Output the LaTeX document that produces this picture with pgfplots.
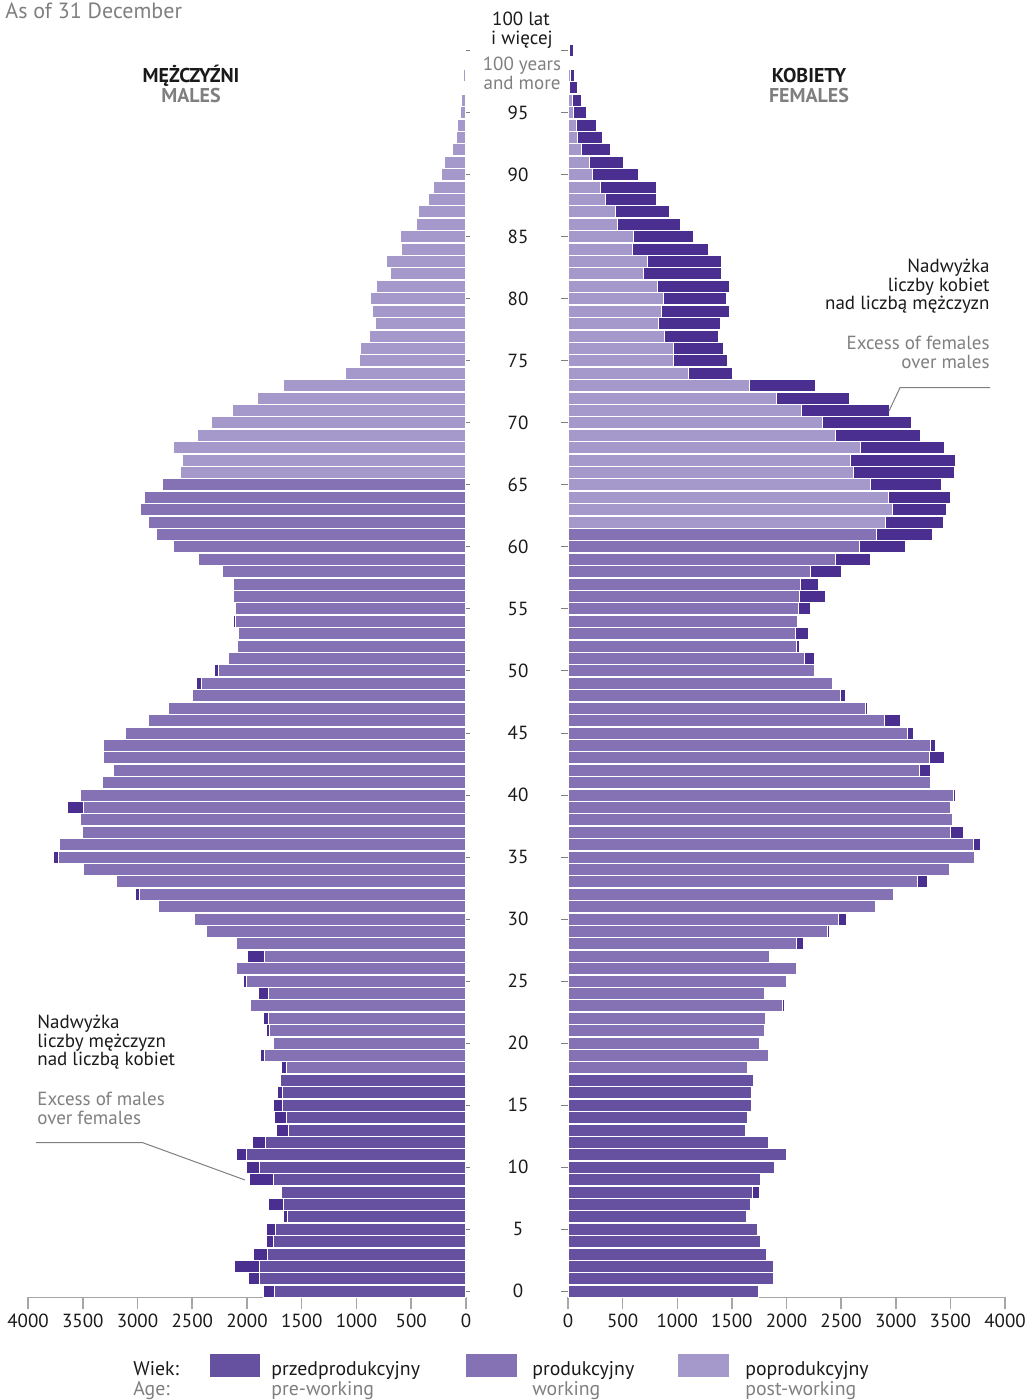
\documentclass[border=0pt]{standalone}
\usepackage{pgfplots}
\pgfplotsset{compat=1.18}
\usepackage{pgfplotstable}
\usepackage{fontspec}
\setmainfont{PT Sans}
\definecolor{cpre}{HTML}{6650A0}
\definecolor{cwork}{HTML}{8472B4}
\definecolor{cpost}{HTML}{A598CA}
\definecolor{cexc}{HTML}{4A2F91}
\definecolor{tgray}{HTML}{7F7F7F}
\definecolor{agray}{HTML}{A6A6A6}
\definecolor{tblack}{HTML}{1A1A1A}

% age, males (M), females (F)
\pgfplotstableread{
age M F
0 1846 1747
1 1989 1884
2 2113 1884
3 1937 1814
4 1825 1759
5 1822 1738
6 1670 1631
7 1806 1668
8 1685 1750
9 1980 1759
10 2004 1890
11 2098 2003
12 1952 1835
13 1733 1625
14 1752 1643
15 1761 1677
16 1724 1677
17 1703 1698
18 1688 1640
19 1876 1836
20 1755 1760
21 1818 1799
22 1852 1805
23 1964 1985
24 1892 1802
25 2028 2003
26 2095 2095
27 1992 1842
28 2095 2159
29 2372 2393
30 2475 2546
31 2813 2811
32 3014 2979
33 3196 3290
34 3494 3497
35 3768 3717
36 3713 3772
37 3503 3622
38 3521 3522
39 3640 3497
40 3525 3549
41 3333 3320
42 3220 3314
43 3306 3442
44 3315 3363
45 3111 3165
46 2895 3046
47 2719 2741
48 2497 2537
49 2463 2418
50 2293 2256
51 2165 2256
52 2089 2122
53 2080 2204
54 2126 2104
55 2107 2223
56 2120 2360
57 2126 2290
58 2223 2500
59 2445 2765
60 2667 3086
61 2822 3336
62 2904 3433
63 2974 3467
64 2935 3497
65 2773 3415
66 2609 3534
67 2585 3546
68 2673 3445
69 2451 3226
70 2326 3143
71 2135 2939
72 1907 2579
73 1663 2262
74 1101 1503
75 970 1464
76 961 1427
77 885 1375
78 824 1396
79 858 1482
80 876 1448
81 821 1476
82 693 1409
83 730 1409
84 593 1287
85 596 1149
86 453 1027
87 435 933
88 347 808
89 301 814
90 228 643
91 200 512
92 125 387
93 85 317
94 82 262
95 52 168
96 43 119
97 14 91
98 20 58
99 8 8
100 16 52
}\pop

\pgfplotsset{
  pyr/.style={
    scale only axis, height=626.5pt, ymin=-0.5, ymax=100.5,
    /pgf/number format/assume math mode=true,
    ticklabel style={font=\fontsize{9.5}{11}\selectfont, text=tblack},
  },
  xax/.style={
    axis x line*=bottom, axis y line=none,
    x axis line style={-, agray, line width=0.75pt},
    xtick style={agray, line width=0.75pt},
    major tick length=6pt, tick align=outside,
    xticklabel style={yshift=1.5pt},
  },
  bars/.style={xbar, bar width=6pt, bar shift=0pt, draw=white, line width=0.5pt},
}

\begin{document}
\begin{tikzpicture}
\begin{scope}[x=0.5pt,y=-0.5pt,shift={(-14pt,648.75pt)}]
\useasboundingbox (0,0) rectangle (1035,1400);
\end{scope}

% ---------- males ----------
\begin{axis}[pyr, xax, width=219pt, at={(0,0)}, anchor=south west,
  xmin=-4000, xmax=0,
  xtick={-4000,-3500,-3000,-2500,-2000,-1500,-1000,-500,0},
  xticklabels={4000,3500,3000,2500,2000,1500,1000,500,0}]
\addplot[bars, fill=cexc] table[x expr={-\thisrow{M}}, y=age]{\pop};
\addplot[bars, fill=cpre, restrict y to domain=-0.5:17.5] table[x expr={-min(\thisrow{M},\thisrow{F})}, y=age]{\pop};
\addplot[bars, fill=cwork, restrict y to domain=17.5:65.5] table[x expr={-min(\thisrow{M},\thisrow{F})}, y=age]{\pop};
\addplot[bars, fill=cpost, restrict y to domain=65.5:100.5] table[x expr={-min(\thisrow{M},\thisrow{F})}, y=age]{\pop};
\end{axis}
\begin{axis}[pyr, width=219pt, at={(0,0)}, anchor=south west,
  xmin=-4000, xmax=0, axis x line=none, axis y line*=right,
  y axis line style={draw=none}, ytick={0,5,...,100}, yticklabels={},
  major tick length=2pt, tick align=outside, ytick style={tgray, line width=0.5pt}]
\addplot[draw=none] coordinates {(-1,50)};
\end{axis}

% ---------- females ----------
\begin{axis}[pyr, xax, width=218.5pt, at={(270pt,0)}, anchor=south west,
  xmin=0, xmax=4000,
  xtick={0,500,1000,1500,2000,2500,3000,3500,4000},
  xticklabels={0,500,1000,1500,2000,2500,3000,3500,4000}]
\addplot[bars, fill=cexc] table[x=F, y=age]{\pop};
\addplot[bars, fill=cpre, restrict y to domain=-0.5:17.5] table[x expr={min(\thisrow{M},\thisrow{F})}, y=age]{\pop};
\addplot[bars, fill=cwork, restrict y to domain=17.5:61.5] table[x expr={min(\thisrow{M},\thisrow{F})}, y=age]{\pop};
\addplot[bars, fill=cpost, restrict y to domain=61.5:100.5] table[x expr={min(\thisrow{M},\thisrow{F})}, y=age]{\pop};
\end{axis}
\begin{axis}[pyr, width=218.5pt, at={(270pt,0)}, anchor=south west,
  xmin=0, xmax=4000, axis x line=none, axis y line*=left,
  y axis line style={draw=none}, ytick={0,5,...,100},
  yticklabels={0,5,10,15,20,25,30,35,40,45,50,55,60,65,70,75,80,85,90,95,{}},
  yticklabel style={anchor=center, xshift=-21.5pt},
  major tick length=3.5pt, tick align=outside, ytick style={tgray, line width=0.5pt}]
\addplot[draw=none] coordinates {(1,50)};
\end{axis}

% ---------- texts ----------
\begin{scope}[x=0.5pt,y=-0.5pt,shift={(-14pt,648.75pt)},
  every node/.style={inner sep=0pt, text=tblack, font=\fontsize{9.5}{9.5}\selectfont}]
\node[anchor=base west, text=tgray, font=\fontsize{11}{11}\selectfont] at (5,19) {As of 31 December};
\node[anchor=base, font=\fontsize{10}{10}\selectfont\bfseries] at (191,83) {MĘŻCZYŹNI};
\node[anchor=base, text=tgray, font=\fontsize{10}{10}\selectfont\bfseries] at (191,103) {MALES};
\node[anchor=base, font=\fontsize{10}{10}\selectfont\bfseries] at (809,83) {KOBIETY};
\node[anchor=base, text=tgray, font=\fontsize{10}{10}\selectfont\bfseries] at (809,103) {FEMALES};
\node[anchor=base] at (521,26) {100 lat};
\node[anchor=base] at (522,45) {i więcej};
\node[anchor=base, text=tgray] at (522,71) {100 years};
\node[anchor=base, text=tgray] at (522,90) {and more};
% right annotation
\node[anchor=base east] at (990,273) {Nadwyżka};
\node[anchor=base east] at (990,291.5) {liczby kobiet};
\node[anchor=base east] at (990,309.5) {nad liczbą mężczyzn};
\node[anchor=base east, text=tgray] at (990,350) {Excess of females};
\node[anchor=base east, text=tgray] at (990,368.5) {over males};
\draw[tgray, line width=0.5pt] (990,387.7) -- (900,387.7) -- (889,411);
% left annotation
\node[anchor=base west] at (37,1029) {Nadwyżka};
\node[anchor=base west] at (37,1047.5) {liczby mężczyzn};
\node[anchor=base west] at (37,1066) {nad liczbą kobiet};
\node[anchor=base west, text=tgray] at (37,1106) {Excess of males};
\node[anchor=base west, text=tgray] at (37,1124.5) {over females};
\draw[tgray, line width=0.5pt] (36,1142.7) -- (142.7,1142.7) -- (245,1180);
% legend
\begin{scope}[every node/.style={inner sep=0pt, text=tblack, font=\fontsize{9.9}{9.9}\selectfont}]
\node[anchor=base west] at (133,1375) {Wiek:};
\node[anchor=base west, text=tgray] at (133,1395) {Age:};
\fill[cpre] (210,1354) rectangle (260,1377);
\node[anchor=base west] at (271,1375) {przedprodukcyjny};
\node[anchor=base west, text=tgray] at (271,1395) {pre-working};
\fill[cwork] (466,1354) rectangle (517,1377);
\node[anchor=base west] at (532,1375) {produkcyjny};
\node[anchor=base west, text=tgray] at (532,1395) {working};
\fill[cpost] (678,1354) rectangle (729,1377);
\node[anchor=base west] at (745,1375) {poprodukcyjny};
\node[anchor=base west, text=tgray] at (745,1395) {post-working};
\end{scope}
\end{scope}
\end{tikzpicture}
\end{document}
